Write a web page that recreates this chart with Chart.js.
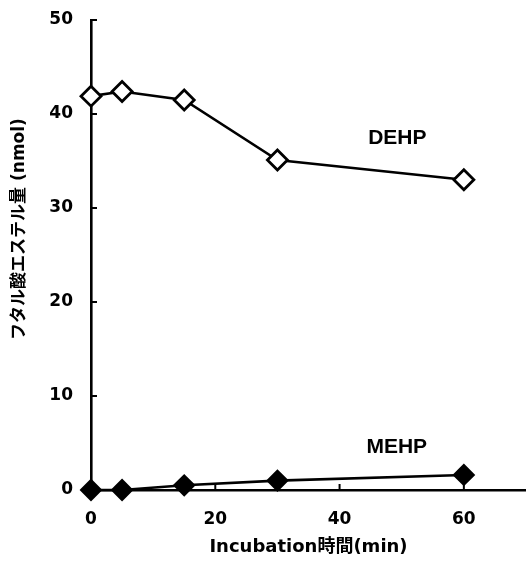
<!DOCTYPE html>
<html>
<head>
<meta charset="utf-8">
<script src="https://cdn.jsdelivr.net/npm/chart.js@4"></script>
<style>
  html, body { margin: 0; padding: 0; background: #fff; }
  #wrap { width: 526px; height: 562px; }
</style>
</head>
<body>
<div id="wrap"><canvas id="chart"></canvas></div>
<script>
const times = [0, 5, 15, 30, 60];
const dehp = [41.9, 42.4, 41.5, 35.1, 33.0];
const mehp = [0, 0, 0.5, 1.0, 1.6];
const yTicks = [0, 10, 20, 30, 40, 50];
const xTicks = [0, 20, 40, 60];
const seriesLabels = [
  { text: "DEHP", x: 49.3, y: 37.4 },
  { text: "MEHP", x: 49.2, y: 4.5 },
];
const yTitle = "フタル酸エステル量 (nmol)";
const xTitle = "Incubation時間(min)";

const fontFam = "'DejaVu Sans', 'Noto Sans CJK JP', sans-serif";
const labelFam = "'Liberation Sans', Arial, sans-serif";

// inward tick marks, series labels, y title
const decor = {
  id: "decor",
  afterDraw(chart) {
    const c = chart.ctx;
    const xs = chart.scales.x, ys = chart.scales.y;
    c.save();
    c.strokeStyle = "#000";
    c.lineWidth = 2;
    yTicks.forEach(v => {
      const p = ys.getPixelForValue(v);
      c.beginPath();
      c.moveTo(xs.left, p);
      c.lineTo(xs.left + 6, p);
      c.stroke();
    });
    xTicks.forEach(v => {
      const p = xs.getPixelForValue(v);
      c.beginPath();
      c.moveTo(p, ys.bottom);
      c.lineTo(p, ys.bottom - 6);
      c.stroke();
    });
    c.fillStyle = "#000";
    c.font = "bold 21px " + labelFam;
    c.textAlign = "center";
    c.textBaseline = "middle";
    seriesLabels.forEach(l => {
      c.fillText(l.text, xs.getPixelForValue(l.x), ys.getPixelForValue(l.y));
    });
    c.translate(20, 229);
    c.rotate(-Math.PI / 2);
    c.font = "bold 17px " + fontFam;
    c.fillText(yTitle, 0, 0);
    c.restore();
  }
};

const tickFont = { size: 17, weight: "bold", family: fontFam };

new Chart(document.getElementById("chart"), {
  type: "scatter",
  data: {
    datasets: [
      {
        label: "DEHP",
        data: times.map((t, i) => ({ x: t, y: dehp[i] })),
        showLine: true,
        borderColor: "#000",
        borderWidth: 2.6,
        pointStyle: "rectRot",
        pointRadius: 10,
        pointBackgroundColor: "#fff",
        pointBorderColor: "#000",
        pointBorderWidth: 2.8,
      },
      {
        label: "MEHP",
        data: times.map((t, i) => ({ x: t, y: mehp[i] })),
        showLine: true,
        borderColor: "#000",
        borderWidth: 2.6,
        pointStyle: "rectRot",
        pointRadius: 10,
        pointBackgroundColor: "#000",
        pointBorderColor: "#000",
        pointBorderWidth: 2,
      },
    ],
  },
  options: {
    responsive: true,
    maintainAspectRatio: false,
    animation: false,
    layout: { autoPadding: false, padding: { top: 20, right: 0, left: 0, bottom: 0 } },
    clip: false,
    plugins: {
      legend: { display: false },
      tooltip: { enabled: false },
    },
    scales: {
      x: {
        type: "linear",
        min: 0,
        max: 70,
        afterFit(s) { s.height = 72; s.paddingRight = 0; s.paddingLeft = 0; },
        afterBuildTicks(s) { s.ticks = xTicks.map(v => ({ value: v })); },
        grid: { display: false, drawTicks: false },
        border: { display: true, color: "#000", width: 2.6 },
        ticks: { color: "#000", padding: 19, font: tickFont },
        title: {
          display: true,
          text: xTitle,
          color: "#000",
          padding: { top: 5 },
          font: { size: 18, weight: "bold", family: fontFam },
        },
      },
      y: {
        min: 0,
        max: 50,
        afterFit(s) { s.width = 91; s.paddingTop = 0; s.paddingBottom = 0; },
        afterBuildTicks(s) { s.ticks = yTicks.map(v => ({ value: v })); },
        grid: { display: false, drawTicks: false },
        border: { display: true, color: "#000", width: 2.6 },
        ticks: { color: "#000", padding: 18, font: tickFont },
      },
    },
  },
  plugins: [decor],
});
</script>
</body>
</html>
